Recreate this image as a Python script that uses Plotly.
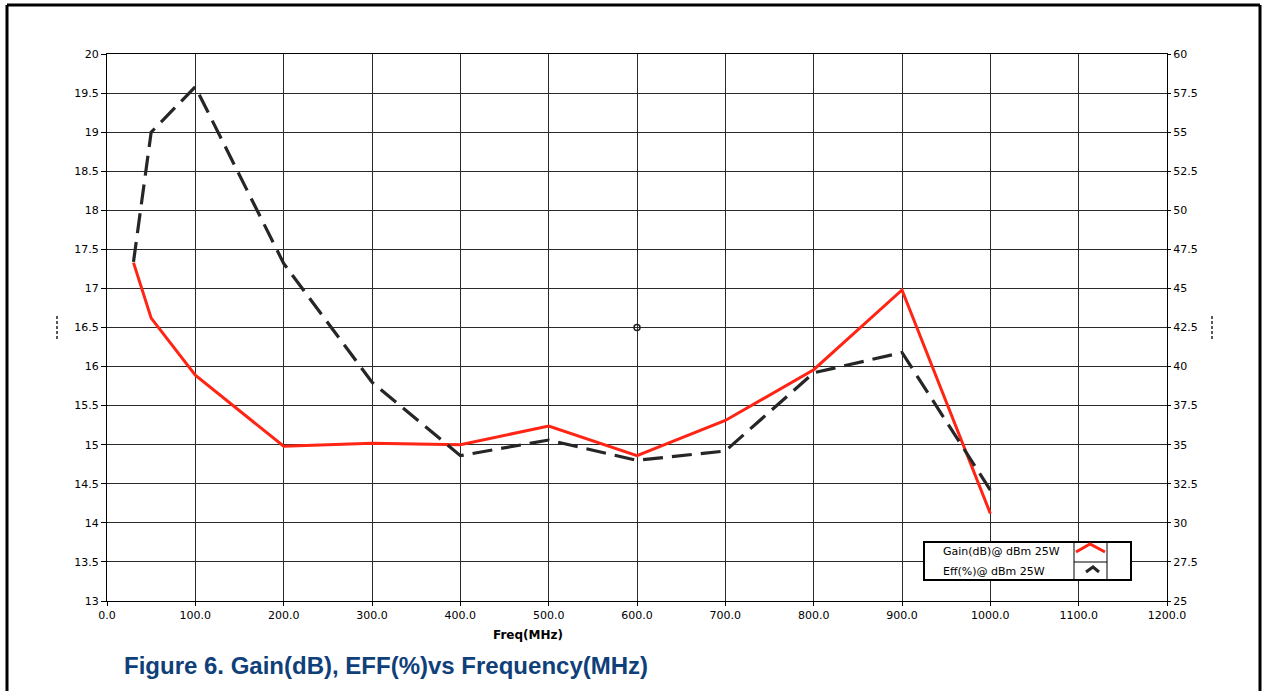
import plotly.graph_objects as go

# Measured data: frequency sweep at 25 W output
freq_mhz = [30, 50, 100, 200, 300, 400, 500, 600, 700, 800, 900, 1000]
gain_db = [17.33, 16.62, 15.89, 14.98, 15.02, 15.0, 15.24, 14.86, 15.31, 15.96, 16.98, 14.12]
eff_pct = [46.7, 55.0, 57.9, 46.6, 39.0, 34.3, 35.3, 34.0, 34.6, 39.6, 40.9, 32.1]

cursor_x = [600]
cursor_y = [16.5]

legend_labels = ["Gain(dB)@ dBm 25W", "Eff(%)@ dBm 25W"]
caption = "Figure 6. Gain(dB), EFF(%)vs Frequency(MHz)"

W, H = 1263, 691
L, R, T, B = 107, 96, 54, 90
PW, PH = W - L - R, H - T - B


def px(x):
    return (x - L) / PW


def py(y):
    return 1 - (y - T) / PH


tick_font = dict(family="DejaVu Sans", size=11, color="#000000")
grid_col = "#2a2a2a"

fig = go.Figure()

fig.add_trace(go.Scatter(
    x=freq_mhz, y=gain_db, mode="lines", name=legend_labels[0],
    line=dict(color="#ff2414", width=3), yaxis="y", showlegend=False,
))
fig.add_trace(go.Scatter(
    x=freq_mhz, y=eff_pct, mode="lines", name=legend_labels[1],
    line=dict(color="#262626", width=3.2, dash="20px,9px"), yaxis="y2", showlegend=False,
))
fig.add_trace(go.Scatter(
    x=cursor_x, y=cursor_y, mode="markers", showlegend=False,
    marker=dict(symbol="circle-open", size=6, color="#222222", line=dict(width=1.5)),
))

shapes = []
# outer frame
for x0, y0, x1, y1 in [(7, 5, 7, 691), (7, 5, 1260, 5), (1260, 5, 1260, 691)]:
    shapes.append(dict(type="line", xref="paper", yref="paper",
                       x0=px(x0), y0=py(y0), x1=px(x1), y1=py(y1),
                       line=dict(color="#000000", width=3)))
# dashed axis-title glyphs
for xx in (57, 1212):
    shapes.append(dict(type="line", xref="paper", yref="paper",
                       x0=px(xx), x1=px(xx), y0=py(316), y1=py(339),
                       line=dict(color="#222222", width=1.5, dash="3px,2px")))

# legend box
lx0, lx1, ly0, ly1 = 924, 1131, 542, 580
sx0, sx1, smid = 1074, 1107, 562
shapes.append(dict(type="rect", xref="paper", yref="paper",
                   x0=px(lx0), x1=px(lx1), y0=py(ly0), y1=py(ly1),
                   line=dict(color="#000000", width=2), fillcolor="#ffffff", layer="above"))
for xx in (sx0, sx1):
    shapes.append(dict(type="line", xref="paper", yref="paper",
                       x0=px(xx), x1=px(xx), y0=py(ly0), y1=py(ly1),
                       line=dict(color="#000000", width=1), layer="above"))
shapes.append(dict(type="line", xref="paper", yref="paper",
                   x0=px(sx0), x1=px(sx1), y0=py(smid), y1=py(smid),
                   line=dict(color="#000000", width=1), layer="above"))
# legend swatches (caret marks)
shapes.append(dict(type="path", xref="paper", yref="paper", layer="above",
                   path=f"M {px(1076)},{py(552)} L {px(1090)},{py(544)} L {px(1105)},{py(552)}",
                   line=dict(color="#ff2414", width=3)))
shapes.append(dict(type="path", xref="paper", yref="paper", layer="above",
                   path=f"M {px(1086)},{py(572)} L {px(1093)},{py(567)} L {px(1099)},{py(572)}",
                   line=dict(color="#262626", width=3)))

annotations = [
    dict(text=legend_labels[0], xref="paper", yref="paper", x=px(941), y=py(551),
         xanchor="left", yanchor="middle", showarrow=False,
         font=dict(family="DejaVu Sans", size=11, color="#000000")),
    dict(text=legend_labels[1], xref="paper", yref="paper", x=px(941), y=py(571),
         xanchor="left", yanchor="middle", showarrow=False,
         font=dict(family="DejaVu Sans", size=11, color="#000000")),
    dict(text="<b>Freq(MHz)</b>", xref="paper", yref="paper", x=px(528), y=py(635),
         xanchor="center", yanchor="middle", showarrow=False,
         font=dict(family="DejaVu Sans", size=12, color="#000000")),
    dict(text=f"<b>{caption}</b>", xref="paper", yref="paper", x=px(122), y=py(665),
         xanchor="left", yanchor="middle", showarrow=False,
         font=dict(family="Liberation Sans", size=24, color="#0f4079")),
]

fig.update_layout(
    width=W, height=H,
    margin=dict(l=L, r=R, t=T, b=B, pad=0),
    paper_bgcolor="#ffffff", plot_bgcolor="#ffffff",
    showlegend=False, hovermode=False,
    shapes=shapes, annotations=annotations,
    xaxis=dict(
        range=[0, 1200], dtick=100, tick0=0, tickformat=".1f",
        showgrid=True, gridcolor=grid_col, gridwidth=1,
        showline=True, linecolor="#000000", linewidth=1, mirror=True,
        ticks="outside", ticklen=4, tickcolor="#000000",
        tickfont=tick_font, zeroline=False,
    ),
    yaxis=dict(
        range=[13, 20], dtick=0.5, tick0=13,
        showgrid=True, gridcolor=grid_col, gridwidth=1,
        showline=True, linecolor="#000000", linewidth=1,
        ticks="outside", ticklen=5, tickcolor="#000000",
        tickfont=tick_font, zeroline=False,
    ),
    yaxis2=dict(
        range=[25, 60], dtick=2.5, tick0=25, overlaying="y", side="right",
        showgrid=False, showline=True, linecolor="#000000", linewidth=1,
        ticks="outside", ticklen=3, tickcolor="#000000",
        tickfont=tick_font, zeroline=False, ticklabelstandoff=0,
    ),
)

fig.write_html("out.html", config={"displayModeBar": False})
